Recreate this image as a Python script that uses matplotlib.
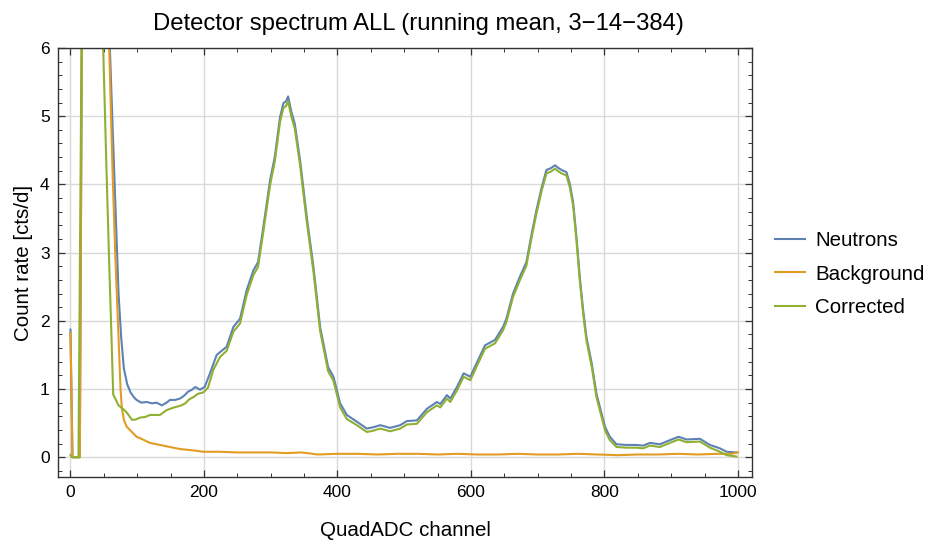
import matplotlib
matplotlib.use("Agg")
import matplotlib.pyplot as plt
from matplotlib.ticker import MultipleLocator

plt.rcParams['font.family'] = ['Liberation Sans', 'DejaVu Sans']

# Running-mean count rates per QuadADC channel
neutrons_ch = [0, 3, 14, 18, 22, 50, 56, 59, 64, 68, 72, 76, 80, 85, 90, 95, 99, 106, 114,
               122, 129, 137, 144, 149, 157, 164, 170, 176, 182, 187, 194, 201, 209, 219,
               224, 234, 244, 254, 264, 274, 281, 289, 299, 306, 314, 319, 323, 326, 331,
               336, 344, 354, 364, 374, 386, 394, 404, 414, 429, 444, 454, 464, 479, 494,
               504, 519, 534, 549, 554, 564, 569, 579, 589, 599, 608, 621, 636, 648, 653,
               663, 673, 683, 691, 698, 706, 713, 720, 726, 731, 736, 743, 748, 753, 758,
               763, 768, 773, 781, 788, 793, 801, 808, 818, 833, 848, 858, 868, 883, 898,
               911, 923, 943, 958, 973, 983, 998]
neutrons = [1.87, 0.0, 0.0, 8.0, 40.0, 40.0, 8.0, 6.0, 4.6, 3.5, 2.4, 1.75, 1.3, 1.07, 0.95,
            0.88, 0.84, 0.80, 0.81, 0.79, 0.80, 0.76, 0.80, 0.84, 0.84, 0.86, 0.90, 0.96,
            0.99, 1.03, 0.99, 1.03, 1.23, 1.50, 1.54, 1.62, 1.91, 2.03, 2.45, 2.74, 2.86,
            3.38, 4.06, 4.40, 4.99, 5.19, 5.22, 5.29, 5.06, 4.89, 4.35, 3.52, 2.79, 1.91,
            1.32, 1.18, 0.79, 0.62, 0.52, 0.42, 0.44, 0.47, 0.43, 0.47, 0.53, 0.54, 0.71,
            0.81, 0.78, 0.91, 0.86, 1.03, 1.23, 1.18, 1.37, 1.64, 1.72, 1.91, 2.03, 2.40,
            2.64, 2.86, 3.28, 3.62, 3.96, 4.21, 4.24, 4.28, 4.24, 4.21, 4.18, 4.01, 3.74,
            3.23, 2.64, 2.16, 1.76, 1.37, 0.93, 0.74, 0.44, 0.30, 0.19, 0.18, 0.18, 0.17,
            0.21, 0.19, 0.25, 0.30, 0.26, 0.27, 0.18, 0.13, 0.08, 0.07]

background_ch = [0, 3, 14, 18, 22, 50, 55, 58, 63, 67, 71, 75, 77, 80, 84, 89, 99, 104,
                 119, 134, 149, 164, 184, 199, 224, 250, 275, 300, 325, 345, 355, 370, 400,
                 430, 460, 490, 520, 550, 580, 610, 640, 670, 700, 730, 760, 790, 820, 850,
                 880, 910, 940, 970, 990, 1000]
background = [1.82, 0.0, 0.0, 8.0, 40.0, 40.0, 8.0, 6.0, 4.2, 3.0, 2.0, 1.0, 0.72, 0.55,
              0.45, 0.40, 0.30, 0.28, 0.21, 0.18, 0.15, 0.12, 0.10, 0.08, 0.08, 0.07, 0.07,
              0.07, 0.06, 0.07, 0.06, 0.04, 0.05, 0.05, 0.04, 0.05, 0.05, 0.04, 0.05, 0.04,
              0.04, 0.05, 0.04, 0.04, 0.05, 0.04, 0.03, 0.04, 0.04, 0.05, 0.04, 0.05, 0.05,
              0.07]

corrected_ch = [0, 2, 12, 18, 22, 45, 47, 49, 54, 58, 61, 64, 68, 72, 77, 82, 87, 92, 97,
                104, 112, 119, 127, 134, 144, 152, 159, 166, 172, 178, 184, 191, 199, 206,
                214, 224, 234, 244, 254, 264, 274, 281, 289, 299, 306, 314, 319, 323, 326,
                331, 336, 344, 354, 364, 374, 386, 394, 404, 414, 429, 444, 454, 464, 479,
                494, 504, 519, 534, 549, 554, 564, 569, 579, 589, 599, 608, 621, 636, 648,
                653, 663, 673, 683, 691, 698, 706, 713, 720, 726, 731, 736, 743, 748, 753,
                758, 763, 768, 773, 781, 788, 793, 801, 808, 818, 833, 848, 858, 868, 883,
                898, 911, 923, 943, 958, 973, 983, 998]
corrected = [0.03, 0.0, 0.0, 8.0, 40.0, 40.0, 8.0, 6.0, 4.2, 2.84, 1.9, 0.92, 0.84, 0.76,
             0.72, 0.68, 0.62, 0.55, 0.55, 0.58, 0.59, 0.62, 0.62, 0.62, 0.69, 0.72, 0.74,
             0.76, 0.79, 0.85, 0.88, 0.93, 0.95, 1.02, 1.28, 1.47, 1.56, 1.84, 1.96, 2.38,
             2.67, 2.79, 3.31, 3.99, 4.33, 4.92, 5.12, 5.15, 5.22, 4.99, 4.82, 4.28, 3.45,
             2.72, 1.85, 1.26, 1.12, 0.73, 0.56, 0.47, 0.37, 0.39, 0.42, 0.38, 0.42, 0.48,
             0.49, 0.66, 0.76, 0.73, 0.86, 0.81, 0.98, 1.18, 1.13, 1.32, 1.59, 1.67, 1.86,
             1.98, 2.35, 2.59, 2.81, 3.23, 3.57, 3.91, 4.16, 4.19, 4.23, 4.19, 4.16, 4.13,
             3.96, 3.69, 3.18, 2.59, 2.11, 1.71, 1.32, 0.88, 0.69, 0.39, 0.25, 0.15, 0.14,
             0.14, 0.13, 0.17, 0.15, 0.21, 0.26, 0.22, 0.23, 0.14, 0.08, 0.03, 0.01]

series_names = ["Neutrons", "Background", "Corrected"]
colors = ["#5E81B5", "#E19C24", "#8FB032"]

fig = plt.figure(figsize=(9.27, 5.43), dpi=100)
W, H = 927, 543
ax = fig.add_axes([58 / W, (H - 477) / H, (752 - 58) / W, (477 - 48) / H])

for xs, ys, name, c in zip([neutrons_ch, background_ch, corrected_ch],
                           [neutrons, background, corrected], series_names, colors):
    ax.plot(xs, ys, color=c, lw=1.5, label=name, solid_joinstyle='round')

ax.set_xlim(-18.7, 1021)
ax.set_ylim(-0.29, 6.0)
ax.xaxis.set_major_locator(MultipleLocator(200))
ax.xaxis.set_minor_locator(MultipleLocator(50))
ax.yaxis.set_major_locator(MultipleLocator(1))
ax.yaxis.set_minor_locator(MultipleLocator(0.2))
ax.grid(True, which='major', color='#d9d9d9', lw=1.0)
ax.set_axisbelow(True)

frame_col = '#333333'
for s in ax.spines.values():
    s.set_color(frame_col)
    s.set_linewidth(1.0)
ax.tick_params(which='both', direction='in', top=True, right=True, color=frame_col,
               labelsize=12.5, labelcolor='black', pad=6)
ax.tick_params(which='major', length=5, width=0.9)
ax.tick_params(which='minor', length=3, width=0.7)

ax.set_title("Detector spectrum ALL (running mean, 3\u221214\u2212384)", fontsize=17.2,
             pad=13, x=0.52)
ax.set_xlabel("QuadADC channel", fontsize=14.8, labelpad=15)
ax.set_ylabel("Count rate [cts/d]", fontsize=14.8, labelpad=5)

leg = fig.legend(loc='center left', bbox_to_anchor=(767 / W, 1 - 274 / H), frameon=False,
                 fontsize=14.8, handlelength=1.45, handletextpad=0.5, labelspacing=0.7,
                 borderaxespad=0)

fig.savefig("out.png", dpi=100)
